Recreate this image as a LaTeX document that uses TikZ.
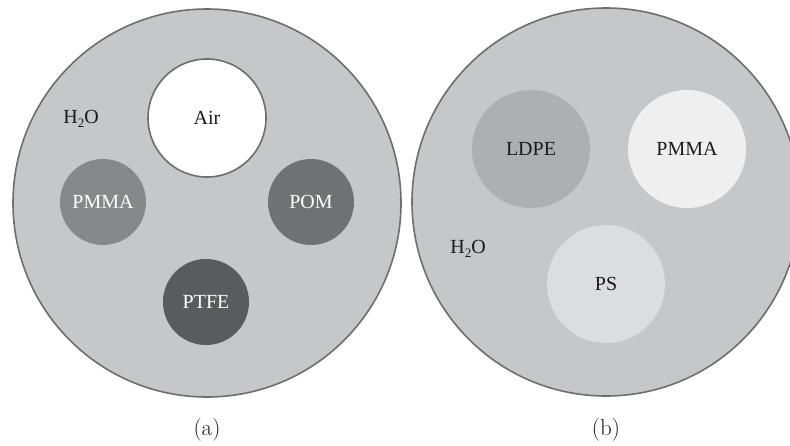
\documentclass[tikz,border=0pt]{standalone}
\usepackage{fontspec}
\newfontfamily\tnr{Liberation Serif}
\definecolor{waterc}{HTML}{C6C7C9}
\definecolor{edgec}{HTML}{6E6E70}
\definecolor{pmmaa}{HTML}{87888A}
\definecolor{pomc}{HTML}{707174}
\definecolor{ptfec}{HTML}{5A5B5D}
\definecolor{ldpec}{HTML}{ADB0B2}
\definecolor{pmmab}{HTML}{EFEFEF}
\definecolor{psc}{HTML}{DCDDDF}
\definecolor{txtc}{HTML}{1A1A1A}
\tikzset{
  phantom/.style={circle, inner sep=0pt, minimum size=388pt, fill=waterc, draw=edgec, line width=1.6pt},
  insert/.style={circle, inner sep=0pt, font=\tnr\fontsize{20}{23}\selectfont},
  small/.style={insert, minimum size=86pt},
  big/.style={insert, minimum size=118pt},
  lbl/.style={font=\tnr\fontsize{20}{23}\selectfont, text=txtc, inner sep=0pt},
  sublabel/.style={font=\fontsize{23}{26}\selectfont, text=txtc, inner sep=0pt}
}
\newcommand{\hwater}{H\raisebox{-4pt}{\fontsize{13}{13}\selectfont 2}O}
\begin{document}
\begin{tikzpicture}[x=1pt,y=-1pt]
\useasboundingbox (0,0) rectangle (790,445);
\begin{scope}
\clip (0,0) rectangle (790,445);
% (a)
\node[phantom] (pa) at (207,203) {};
\node[big, fill=white, draw=edgec, line width=1.6pt, text=txtc] (air) at (207,118) {Air};
\node[small, fill=pmmaa, text=white] (pmmaA) at (103,202) {PMMA};
\node[small, fill=pomc, text=white] (pom) at (311,202) {POM};
\node[small, fill=ptfec, text=white] (ptfe) at (206,302) {PTFE};
\node[lbl] (h2oa) at (81,119) {\hwater};
% (b)
\node[phantom] (pb) at (606,202) {};
\node[big, fill=ldpec, text=txtc] (ldpe) at (531,149) {LDPE};
\node[big, fill=pmmab, text=txtc] (pmmaB) at (687,149) {PMMA};
\node[big, fill=psc, text=txtc] (ps) at (606,284) {PS};
\node[lbl] (h2ob) at (468,249) {\hwater};
\end{scope}
\node[sublabel] (capa) at (207,430) {(a)};
\node[sublabel] (capb) at (606,430) {(b)};
\end{tikzpicture}
\end{document}
